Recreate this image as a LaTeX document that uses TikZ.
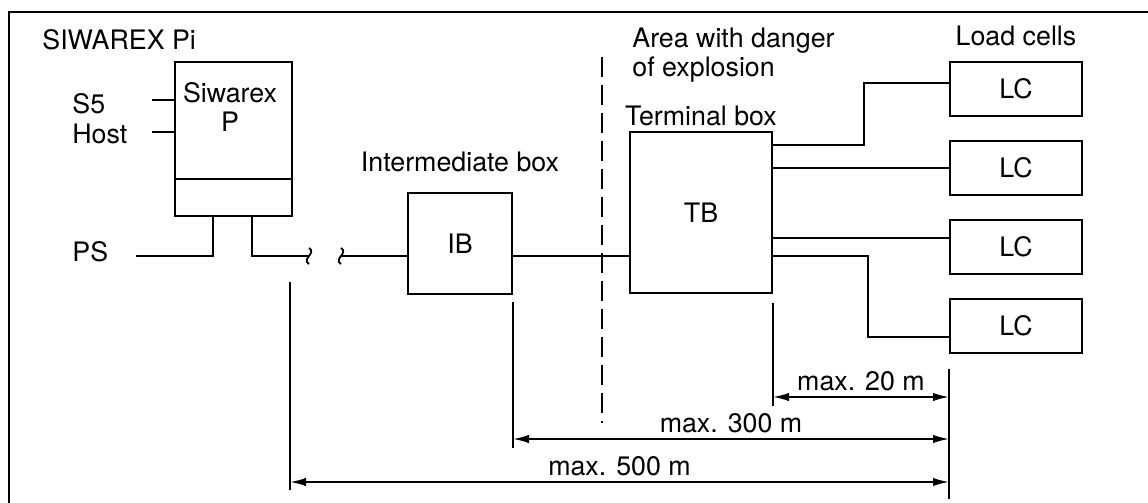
\documentclass[tikz,border=0pt]{standalone}
\usepackage{fontspec}
\setmainfont{TeX Gyre Heros}
\usetikzlibrary{positioning,arrows.meta}

\begin{document}
\begin{tikzpicture}[x=0.5pt, y=-0.5pt, node distance=11.5pt,
  font=\fontsize{13.4}{14.5}\selectfont,
  box/.style={draw, line width=1pt, inner sep=0pt},
  lcbox/.style={box, minimum width=66pt, minimum height=27pt},
  lbl/.style={inner sep=0pt, align=left},
  wire/.style={line width=0.9pt},
  dim/.style={line width=0.9pt, {Latex[length=8pt,width=4.2pt]}-{Latex[length=8pt,width=4.2pt]}}]
\useasboundingbox (0,0) rectangle (1148,503);
\draw[line width=1.1pt] (9,503) |- (1148,12);

% Siwarex Pi
\node[lbl, anchor=base west] (pi) at (42,49) {SIWAREX Pi};
\node[box, minimum width=58.5pt, minimum height=77pt] (siw) at (233.5,139) {};
\draw[box] ([yshift=19pt]siw.south west) -- ([yshift=19pt]siw.south east);
\node[lbl, anchor=north, align=center] (siwtxt) at (230,82) {Siwarex\\P};
\node[lbl, anchor=base west] (s5) at (72,113) {S5};
\node[lbl, anchor=base west] (host) at (72,143) {Host};
\node[lbl, anchor=base west] (ps) at (72,261) {PS};
\coordinate (s5a) at (152,100);
\coordinate (hosta) at (152,132);
\coordinate (psa) at (136,256);
\draw[wire] (s5a) -- (s5a -| siw.west);
\draw[wire] (hosta) -- (hosta -| siw.west);
\draw[wire] (psa) -| ([xshift=19.5pt]siw.south west);

% cable with break
\coordinate (brk1) at (309,256);
\coordinate (brk2) at (341,256);
\draw[wire] ([xshift=39pt]siw.south west) |- (brk1);
\draw[wire] ([shift={(0,-8)}]brk1) .. controls ([shift={(8,-3)}]brk1) and ([shift={(-8,3)}]brk1) .. ([shift={(0,8)}]brk1);
\draw[wire] ([shift={(0,-8)}]brk2) .. controls ([shift={(8,-3)}]brk2) and ([shift={(-8,3)}]brk2) .. ([shift={(0,8)}]brk2);

% intermediate box and terminal box
\node[box, minimum width=52pt, minimum height=50.5pt] (ib) at (460,243.5) {IB};
\node[lbl, above=10pt of ib] (ibtxt) {Intermediate box};
\node[box, minimum width=71pt, minimum height=80.5pt] (tb) at (701,212.5) {TB};
\node[lbl, above=2.5pt of tb] (tbtxt) {Terminal box};
\draw[wire] (brk2) -- (brk2 -| ib.west);
\draw[wire] (brk2 -| ib.east) -- (brk2 -| tb.west);

% hazardous area
\node[lbl, anchor=north west] (ex) at (632,28) {Area with danger\\of explosion};
\coordinate (zonetop) at (602,57);
\coordinate (zonebot) at (602,423);
\draw[line width=0.9pt, dash pattern=on 10pt off 4pt] (zonetop) -- (zonebot);

% load cells
\node[lcbox] (lc1) at (1016,89) {LC};
\node[lcbox, below=of lc1] (lc2) {LC};
\node[lcbox, below=of lc2] (lc3) {LC};
\node[lcbox, below=of lc3] (lc4) {LC};
\node[lbl, above=7.5pt of lc1] (lctxt) {Load cells};
\coordinate (w3) at ([yshift=4.5pt]lc3.west);
\coordinate (w4) at ([yshift=-5.5pt]lc4.west);
\draw[wire] ([yshift=-7pt]tb.north east) -| ([xshift=-42.5pt,yshift=3pt]lc1.west) -- ([yshift=3pt]lc1.west);
\draw[wire] (lc2.west -| tb.east) -- (lc2.west);
\draw[wire] (w3 -| tb.east) -- (w3);
\draw[wire] (brk2 -| tb.east) -| ([xshift=-40.5pt]w4) -- (w4);

% cable lengths
\coordinate (e1) at (290,282);
\coordinate (m20) at (0,397);
\coordinate (m300) at (0,439);
\coordinate (m500) at (0,482);
\draw[wire] (e1) -- ++(0,208);
\draw[wire] ([yshift=-3.5pt]ib.south east) -- ++(0,146);
\draw[wire] ([yshift=-4.5pt]tb.south east) -- ++(0,103);
\draw[wire] ([yshift=-7.5pt]lc4.south west) -- ++(0,130);
\draw[dim] (m20 -| tb.east) -- (m20 -| lc4.west) node[lbl, midway, above=2.5pt] {max. 20 m};
\draw[dim] (m300 -| ib.east) -- (m300 -| lc4.west) node[lbl, midway, above=2.5pt] {max. 300 m};
\draw[dim] (m500 -| e1) -- (m500 -| lc4.west) node[lbl, midway, above=2.5pt] {max. 500 m};
\end{tikzpicture}
\end{document}
